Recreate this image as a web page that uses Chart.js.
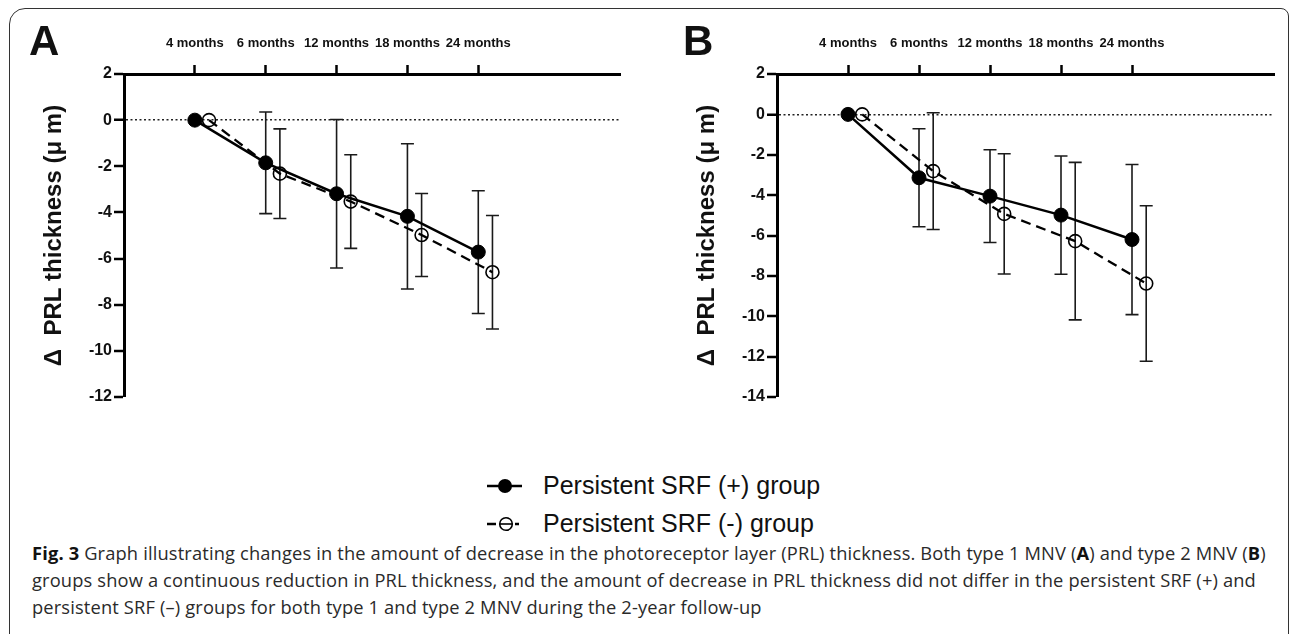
<!DOCTYPE html>
<html>
<head>
<meta charset="utf-8">
<script src="https://cdn.jsdelivr.net/npm/chart.js@4.4.1/dist/chart.umd.min.js"></script>
<style>
  html, body { margin: 0; padding: 0; background: #fff; overflow: hidden; }
  body { width: 1290px; height: 634px; position: relative; font-family: "Liberation Sans", Arial, sans-serif; color: #111; }
  .frame { position: absolute; left: 9px; top: 8px; width: 1280px; height: 700px; box-sizing: border-box;
           border: 1.5px solid #333; border-top-left-radius: 16px; border-top-right-radius: 8px; }
  .panel { position: absolute; top: 0; }
  .letter { position: absolute; top: 20px; font-size: 42px; line-height: 42px; font-weight: bold; }
  .legend { position: absolute; left: 543px; top: 466px; font-size: 25px; line-height: 38px; }
  .caption { position: absolute; left: 32px; top: 539px; font-family: "Open Sans", sans-serif; font-size: 18.3px; letter-spacing: 0.15px; line-height: 27px; color: #2a2a2a; white-space: nowrap; }
  .caption b { font-weight: bold; color: #111; }
</style>
</head>
<body>
<div class="frame"></div>

<div class="panel" style="left:0"><canvas id="chartA" width="640" height="420"></canvas></div>
<div class="panel" style="left:653px"><canvas id="chartB" width="637" height="420"></canvas></div>
<div class="letter" style="left:29px">A</div>
<div class="letter" style="left:683px">B</div>

<svg style="position:absolute;left:480px;top:470px" width="50" height="70">
  <line x1="7" y1="16" x2="42" y2="16" stroke="#000" stroke-width="2.5"/>
  <circle cx="25" cy="16" r="7" fill="#000"/>
  <line x1="7" y1="54" x2="16" y2="54" stroke="#000" stroke-width="2.5"/>
  <line x1="20" y1="54" x2="32" y2="54" stroke="#000" stroke-width="1.6"/>
  <circle cx="26" cy="54" r="6.3" fill="none" stroke="#000" stroke-width="1.6"/>
  <line x1="35" y1="54" x2="39" y2="54" stroke="#000" stroke-width="2.5"/>
</svg>
<div class="legend">Persistent SRF (+) group<br>Persistent SRF (-) group</div>

<div class="caption"><b>Fig. 3</b> Graph illustrating changes in the amount of decrease in the photoreceptor layer (PRL) thickness. Both type 1 MNV (<b>A</b>) and type 2 MNV (<b>B</b>)<br>groups show a continuous reduction in PRL thickness, and the amount of decrease in PRL thickness did not differ in the persistent SRF (+) and<br>persistent SRF (–) groups for both type 1 and type 2 MNV during the 2-year follow-up</div>

<script>
// time points
const months = ['4 months', '6 months', '12 months', '18 months', '24 months'];

// panel A (type 1 MNV): mean change and error bar half-length
const aPlus = [0, -1.85, -3.19, -4.17, -5.72];
const aPlusErr = [null, 2.2, 3.22, 3.15, 2.66];
const aMinus = [0, -2.32, -3.53, -4.98, -6.59];
const aMinusErr = [null, 1.94, 2.03, 1.8, 2.46];

// panel B (type 2 MNV)
const bPlus = [0, -3.14, -4.05, -4.99, -6.2];
const bPlusErr = [null, 2.43, 2.3, 2.93, 3.72];
const bMinus = [0, -2.81, -4.93, -6.28, -8.38];
const bMinusErr = [null, 2.89, 2.98, 3.9, 3.85];

const SHIFT = 0.2; // open circles drawn a little right of the tick

const errorBars = {
  id: 'errorBars',
  beforeDatasetsDraw(chart) {
    const ctx = chart.ctx;
    const y = chart.scales.y;
    chart.data.datasets.forEach((ds, i) => {
      const meta = chart.getDatasetMeta(i);
      ds.err.forEach((e, j) => {
        if (e == null) return;
        const px = meta.data[j].x;
        const v = ds.data[j].y;
        const top = y.getPixelForValue(v + e);
        const bot = y.getPixelForValue(v - e);
        ctx.save();
        ctx.strokeStyle = '#1a1a1a';
        ctx.lineWidth = 1.6;
        ctx.beginPath();
        ctx.moveTo(px, top); ctx.lineTo(px, bot);
        ctx.moveTo(px - 6.5, top); ctx.lineTo(px + 6.5, top);
        ctx.moveTo(px - 6.5, bot); ctx.lineTo(px + 6.5, bot);
        ctx.stroke();
        ctx.restore();
      });
    });
  }
};

function makePanel(id, plus, plusErr, minus, minusErr, yMin, padRight) {
  new Chart(document.getElementById(id), {
    type: 'line',
    data: {
      datasets: [
        {
          label: 'Persistent SRF (+) group',
          data: plus.map((v, i) => ({ x: i, y: v })),
          err: plusErr,
          borderColor: '#000',
          borderWidth: 2.5,
          pointRadius: 7,
          pointBackgroundColor: '#000',
          pointBorderColor: '#000',
          pointBorderWidth: 1
        },
        {
          label: 'Persistent SRF (-) group',
          data: minus.map((v, i) => ({ x: i + SHIFT, y: v })),
          err: minusErr,
          borderColor: '#000',
          borderWidth: 2.3,
          borderDash: [10, 6],
          pointRadius: 6.5,
          pointBackgroundColor: 'rgba(0,0,0,0)',
          pointBorderColor: '#000',
          pointBorderWidth: 1.6
        }
      ]
    },
    options: {
      responsive: false,
      animation: false,
      layout: { padding: { left: 0, top: 0, right: padRight, bottom: 23 } },
      plugins: { legend: { display: false }, tooltip: { enabled: false } },
      scales: {
        x: {
          type: 'linear',
          position: 'top',
          min: -1,
          max: 6,
          afterBuildTicks: s => { s.ticks = months.map((m, i) => ({ value: i })); },
          afterFit: s => { s.height = 74; },
          ticks: {
            callback: v => months[v],
            autoSkip: false,
            maxRotation: 0,
            padding: 14,
            color: '#111',
            font: { family: 'Liberation Sans', size: 13, weight: 'bold' }
          },
          grid: { drawOnChartArea: false, tickLength: 9, tickWidth: 2.5, tickColor: '#000', color: '#000' },
          border: { color: '#000', width: 3 }
        },
        y: {
          min: yMin,
          max: 2,
          afterFit: s => { s.width = 124; },
          ticks: {
            stepSize: 2,
            padding: 2,
            color: '#111',
            font: { family: 'Liberation Sans', size: 16, weight: 'bold' }
          },
          grid: {
            tickLength: 10,
            tickWidth: 2.5,
            tickColor: '#000',
            color: c => (c.tick && c.tick.value === 0 ? '#222' : 'rgba(0,0,0,0)'),
            lineWidth: c => (c.tick && c.tick.value === 0 ? 1.5 : 0)
          },
          border: { color: '#000', width: 3, dash: [2, 2.5] },
          title: {
            display: true,
            text: 'Δ  PRL thickness (μ m)',
            color: '#111',
            font: { family: 'Liberation Sans', size: 24, weight: 'bold' },
            padding: { top: 40, bottom: 0 }
          }
        }
      }
    },
    plugins: [errorBars]
  });
}

makePanel('chartA', aPlus, aPlusErr, aMinus, aMinusErr, -12, 20);
makePanel('chartB', bPlus, bPlusErr, bMinus, bMinusErr, -14, 16);
</script>
</body>
</html>
